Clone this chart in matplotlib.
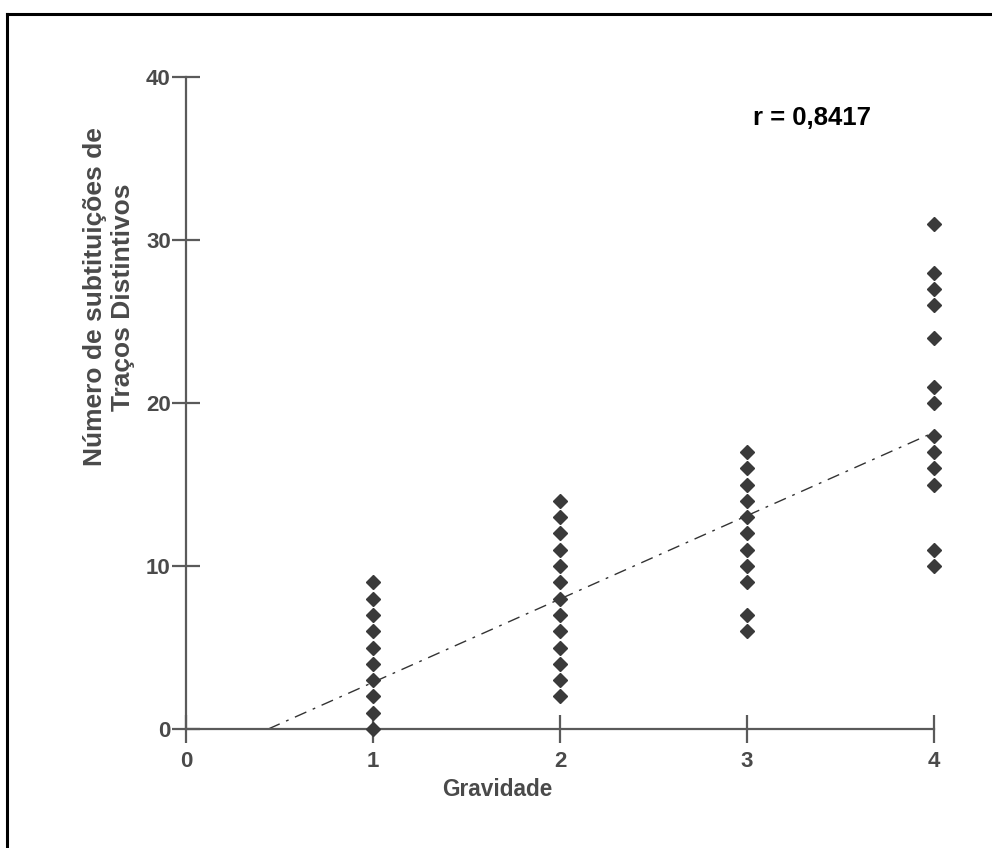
import matplotlib
matplotlib.use("Agg")
import matplotlib.pyplot as plt
from matplotlib.lines import Line2D

plt.rcParams['font.family'] = ['Liberation Sans', 'DejaVu Sans']

# Data
sev_1 = [0, 1, 2, 3, 4, 5, 6, 7, 8, 9]
sev_2 = [2, 3, 4, 5, 6, 7, 8, 9, 10, 11, 12, 13, 14]
sev_3 = [6, 7, 9, 10, 11, 12, 13, 14, 15, 16, 17]
sev_4 = [10, 11, 15, 16, 17, 18, 20, 21, 24, 26, 27, 28, 31]
groups = [1, 2, 3, 4]
trend_x = [0.44, 4.0]
trend_y = [0.0, 18.2]
x_ticks = [0, 1, 2, 3, 4]
y_ticks = [0, 10, 20, 30, 40]
r_text = "r = 0,8417"

W, H = 992, 848
fig = plt.figure(figsize=(W / 100, H / 100), dpi=100)

# Frame around figure (left and top edges)
fig.add_artist(Line2D([7 / W, 7 / W], [0, 1 - 14 / H], transform=fig.transFigure,
                      color='black', lw=2.2))
fig.add_artist(Line2D([7 / W, 1], [1 - 14 / H, 1 - 14 / H], transform=fig.transFigure,
                      color='black', lw=2.2))

x0, x1 = 186, 934
y0, y1 = 729, 77
ax = fig.add_axes([x0 / W, (H - y0) / H, (x1 - x0) / W, (y0 - y1) / H])

axis_col = '#5a5a5a'
text_col = '#4a4a4a'
mk_col = '#3a3a3a'

for g, vals in zip(groups, [sev_1, sev_2, sev_3, sev_4]):
    ax.plot([g] * len(vals), vals, linestyle='none', marker='D', markersize=7.4,
            color=mk_col, markeredgecolor=mk_col, clip_on=False, zorder=3)

ax.plot(trend_x, trend_y, color='#333333', lw=1.0,
        linestyle=(0, (9, 5, 2, 5)), zorder=2, clip_on=False)

ax.set_xlim(0, 4)
ax.set_ylim(0, 40)
ax.set_xticks(x_ticks)
ax.set_yticks(y_ticks)
ax.set_xticklabels([str(v) for v in x_ticks])
ax.set_yticklabels([str(v) for v in y_ticks])

for s in ['top', 'right']:
    ax.spines[s].set_visible(False)
for s in ['left', 'bottom']:
    ax.spines[s].set_color(axis_col)
    ax.spines[s].set_linewidth(1.6)

ax.tick_params(axis='both', direction='inout', length=20, width=1.6, color=axis_col,
               labelsize=16, labelcolor=text_col)
ax.tick_params(axis='x', pad=6)
ax.tick_params(axis='y', pad=1)
for lab in ax.get_xticklabels() + ax.get_yticklabels():
    lab.set_fontweight('bold')

fig.text(497 / W, 1 - 789 / H, 'Gravidade', ha='center', va='center',
         fontsize=16.3, fontweight='bold', color=text_col)
fig.text(109 / W, 1 - 297 / H, 'Número de subtituições de\nTraços Distintivos',
         ha='center', va='center', rotation=90, fontsize=19, fontweight='bold',
         color=text_col, linespacing=1.18, multialignment='center')
fig.text(812 / W, 1 - 118 / H, r_text, ha='center', va='center',
         fontsize=18.5, fontweight='bold', color='black')

fig.savefig('out.png', dpi=100)
